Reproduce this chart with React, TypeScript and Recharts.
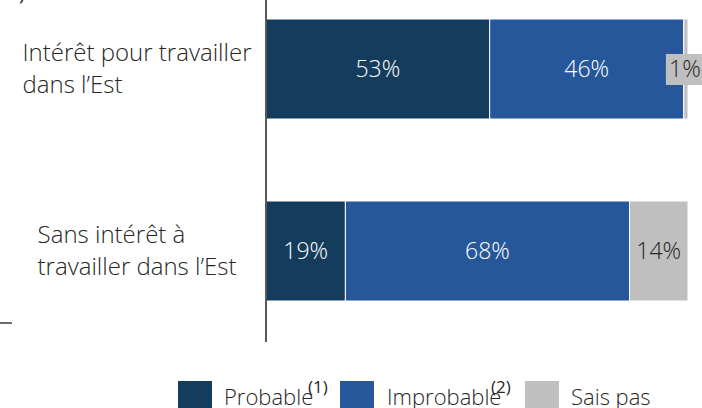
import React from 'react';
import { Bar, BarChart, LabelList, XAxis, YAxis } from 'recharts';

const categories = ['Intérêt pour travailler dans l’Est', 'Sans intérêt à travailler dans l’Est'];
const categoryLines = [
  ['Intérêt pour travailler', 'dans l’Est'],
  ['Sans intérêt à', 'travailler dans l’Est'],
];
const probable = [53, 19];
const improbable = [46, 68];
const saisPas = [1, 14];

const seriesKeys = ['probable', 'improbable', 'saisPas'];
const seriesNames = ['Probable', 'Improbable', 'Sais pas'];
const seriesNotes = ['(1)', '(2)', ''];
const colors = ['#143c5c', '#27579b', '#bfbfbf'];

const data = categories.map((name, i) => ({
  name,
  probable: probable[i],
  improbable: improbable[i],
  saisPas: saisPas[i],
}));

const font = '"Open Sans", sans-serif';
const tickFontSize = 24;

let ctx: CanvasRenderingContext2D | null = null;
const measure = (s: string, size: number) => {
  if (!ctx) ctx = document.createElement('canvas').getContext('2d');
  if (!ctx) return s.length * size * 0.45;
  ctx.font = `300 ${size}px "Open Sans"`;
  return ctx.measureText(s).width;
};

const CategoryTick = (props: any) => {
  const { y, payload } = props;
  const idx = categories.indexOf(payload.value);
  const lines = categoryLines[idx] || [payload.value];
  const maxW = Math.max(...lines.map((l) => measure(l, tickFontSize)));
  const left = 137 - maxW / 2;
  return (
    <text x={left} y={y} textAnchor="start" fontSize={tickFontSize} fill="#262626" fontFamily={font} fontWeight={300}>
      {lines.map((l, i) => (
        <tspan key={i} x={left} y={y + (i - (lines.length - 1) / 2) * 32} dy="0.35em">
          {l}
        </tspan>
      ))}
    </text>
  );
};

const makeLabel = (textColor: string, boxed: boolean) => (props: any) => {
  const { x, y, width, height, value } = props;
  const cx = x + width / 2;
  const cy = y + height / 2;
  const small = boxed && width < 30;
  return (
    <g>
      {small && <rect x={cx - 20} y={cy - 15} width={36} height={31} fill={colors[2]} />}
      <text
        x={small ? cx - 1 : cx}
        y={cy}
        dy="0.36em"
        textAnchor="middle"
        fontSize={23}
        fill={textColor}
        fontFamily={font}
        fontWeight={300}
      >
        {value}%
      </text>
    </g>
  );
};

const labelColors = ['#ffffff', '#ffffff', '#262626'];

// legend layout (x of swatch, text, note)
const legendSwatchX = [178, 340, 525];
const legendTextX = [224, 387, 571];
const legendNoteX = [308, 491, 0];

export default function App() {
  return (
    <div style={{ position: 'absolute', left: 0, top: 0, width: 702, height: 408, overflow: 'hidden', background: '#fff' }}>
      <div style={{ position: 'absolute', left: 19, top: -21, fontSize: 20, fontFamily: font, color: '#262626' }}>)</div>
      <div style={{ position: 'absolute', left: 0, top: 322, width: 12, height: 2, background: '#6b6b6b' }} />
      <div style={{ position: 'absolute', left: 0, top: -22 }}>
        <BarChart
          width={702}
          height={430}
          data={data}
          layout="vertical"
          stackOffset="expand"
          margin={{ top: 0, right: 14, bottom: 66, left: 0 }}
        >
          <XAxis type="number" hide />
          <YAxis
            type="category"
            dataKey="name"
            width={266}
            axisLine={{ stroke: '#595959', strokeWidth: 2 }}
            tickLine={false}
            tick={<CategoryTick />}
          />
          {seriesKeys.map((k, i) => (
            <Bar
              key={k}
              dataKey={k}
              name={seriesNames[i]}
              stackId="a"
              fill={colors[i]}
              stroke="#ffffff"
              strokeWidth={1}
              barSize={100}
              isAnimationActive={false}
            >
              <LabelList dataKey={k} content={makeLabel(labelColors[i], i === 2)} />
            </Bar>
          ))}
        </BarChart>
      </div>
      <svg width={702} height={408} style={{ position: 'absolute', left: 0, top: 0, pointerEvents: 'none' }}>
        {seriesNames.map((n, i) => (
          <g key={n}>
            <rect x={legendSwatchX[i]} y={381} width={34} height={28} fill={colors[i]} />
            <text x={legendTextX[i]} y={405} fontSize={22} fontFamily={font} fontWeight={300} fill="#262626">
              {n}
            </text>
            {seriesNotes[i] && (
              <text x={legendNoteX[i]} y={393} fontSize={17} fontFamily={font} fill="#262626">
                {seriesNotes[i]}
              </text>
            )}
          </g>
        ))}
      </svg>
    </div>
  );
}
